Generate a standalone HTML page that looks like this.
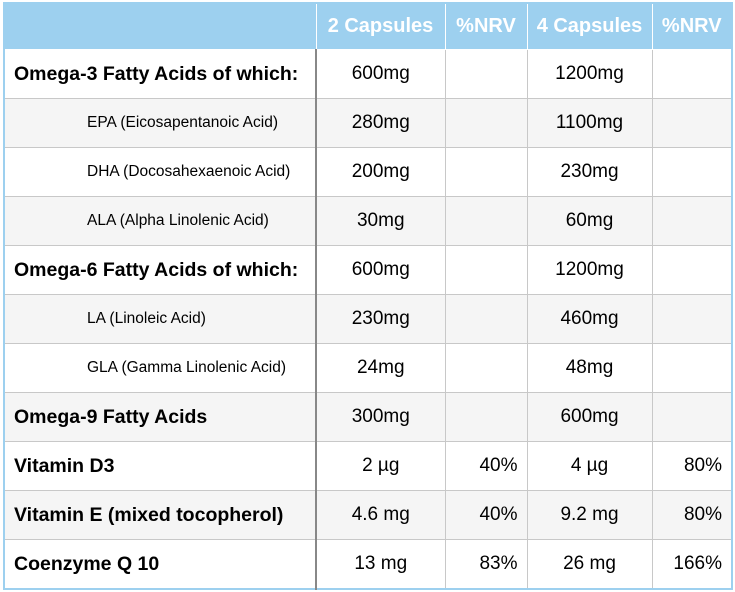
<!DOCTYPE html>
<html><head><style>
body{margin:0;background:#fff;width:735px;height:592px;overflow:hidden;font-family:"Liberation Sans",Arial,sans-serif;}
table{position:absolute;left:3px;top:2px;border-collapse:collapse;table-layout:fixed;border:2px solid #9dd0ef;}
td,th{border:1px solid #c8c8c8;padding:0;font-size:19px;color:#000;text-align:center;height:48px;white-space:nowrap}
th{background:#9dd0ef;color:#fff;font-weight:bold;font-size:20px;height:45px;border:1px solid #fff;border-top:none}
th:first-child{border-left:none}
th:last-child{border-right:none}
td.l{text-align:left;padding-left:9px;font-weight:bold;font-size:19.5px;border-right:2px solid #888;}
td.s{text-align:left;padding-left:82px;font-size:15.5px;border-right:2px solid #888;}
td.r{text-align:right;padding-right:9px}
tr.g td{background:#f5f5f5}
</style></head><body>
<table>
<colgroup><col style="width:312px"><col style="width:129px"><col style="width:82px"><col style="width:125px"><col style="width:80px"></colgroup>
<tr><th></th><th>2 Capsules</th><th>%NRV</th><th>4 Capsules</th><th>%NRV</th></tr>
<tr><td class="l">Omega-3 Fatty Acids of which:</td><td>600mg</td><td></td><td>1200mg</td><td></td></tr>
<tr class="g"><td class="s">EPA (Eicosapentanoic Acid)</td><td>280mg</td><td></td><td>1100mg</td><td></td></tr>
<tr><td class="s">DHA (Docosahexaenoic Acid)</td><td>200mg</td><td></td><td>230mg</td><td></td></tr>
<tr class="g"><td class="s">ALA (Alpha Linolenic Acid)</td><td>30mg</td><td></td><td>60mg</td><td></td></tr>
<tr><td class="l">Omega-6 Fatty Acids of which:</td><td>600mg</td><td></td><td>1200mg</td><td></td></tr>
<tr class="g"><td class="s">LA (Linoleic Acid)</td><td>230mg</td><td></td><td>460mg</td><td></td></tr>
<tr><td class="s">GLA (Gamma Linolenic Acid)</td><td>24mg</td><td></td><td>48mg</td><td></td></tr>
<tr class="g"><td class="l">Omega-9 Fatty Acids</td><td>300mg</td><td></td><td>600mg</td><td></td></tr>
<tr><td class="l">Vitamin D3</td><td>2 µg</td><td class="r">40%</td><td>4 µg</td><td class="r">80%</td></tr>
<tr class="g"><td class="l">Vitamin E (mixed tocopherol)</td><td>4.6 mg</td><td class="r">40%</td><td>9.2 mg</td><td class="r">80%</td></tr>
<tr><td class="l">Coenzyme Q 10</td><td>13 mg</td><td class="r">83%</td><td>26 mg</td><td class="r">166%</td></tr>
</table>
</body></html>
